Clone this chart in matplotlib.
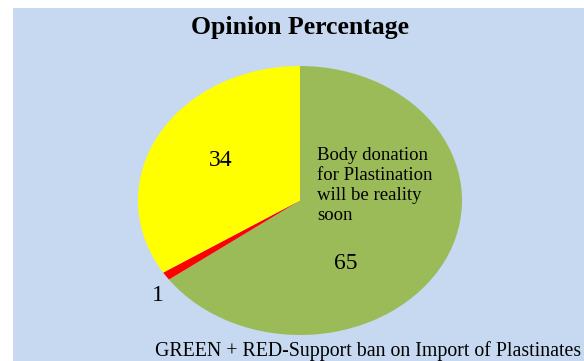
import numpy as np
import matplotlib.pyplot as plt

plt.rcParams['font.family'] = ['Liberation Serif', 'DejaVu Serif']

labels = ['65', '1', '34']
values = [65, 1, 34]
colors = ['#9bbb59', '#ff0000', '#ffff00']
note = 'Body donation\nfor Plastination\nwill be reality\nsoon'
footer = 'GREEN + RED-Support ban on Import of Plastinates'

W, H = 584, 361
fig = plt.figure(figsize=(W / 100, H / 100), dpi=100, facecolor='white')
ax = fig.add_axes([13 / W, 0, (W - 13) / W, (H - 8) / H])

ax.pie(values, colors=colors, startangle=90, counterclock=False,
       radius=1, center=(0, 0), wedgeprops=dict(linewidth=0))
ax.set_frame_on(True)
ax.set_facecolor('#c6d9f0')
ax.set_aspect('auto')
rx, ry = 162, 134.5
ax.set_xlim(-287 / rx, 284 / rx)
ax.set_ylim(-160.5 / ry, 192.5 / ry)
for s in ax.spines.values():
    s.set_visible(False)
ax.set_xticks([])
ax.set_yticks([])

# value labels
ax.text(-0.49, 0.30, labels[2], fontsize=17, ha='center', va='center')
ax.text(0.28, -0.47, labels[0], fontsize=17, ha='center', va='center')
ax.text(-0.88, -0.71, labels[1], fontsize=17, ha='center', va='center')
ax.text(0.105, 0.40, note, fontsize=13.5, ha='left', va='top', linespacing=1.25)

fig.text(300 / W, 1 - 34 / H, 'Opinion Percentage', fontsize=18.5,
         fontweight='bold', ha='center', va='baseline')
fig.text(155 / W, 5 / H, footer, fontsize=14.3, ha='left', va='baseline')

fig.savefig('out.png', dpi=100)
